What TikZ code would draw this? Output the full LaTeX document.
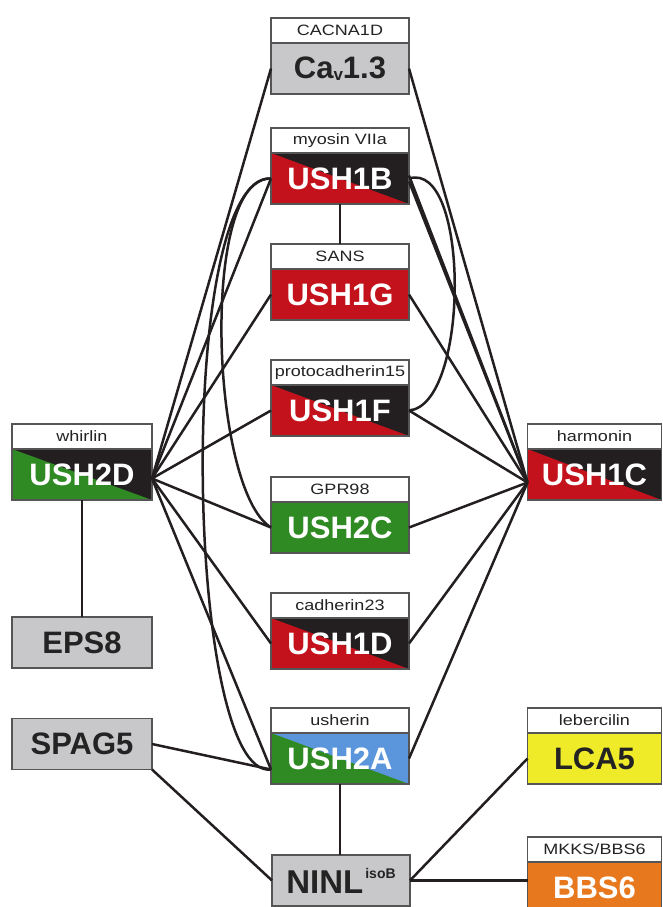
\documentclass[tikz,border=0pt]{standalone}
\usepackage{fontspec}
\setmainfont{Liberation Sans}
\newfontfamily\hdrfont[FakeStretch=1.2]{Liberation Sans}
\definecolor{ured}{RGB}{196,18,28}
\definecolor{ublack}{RGB}{35,31,32}
\definecolor{ugreen}{RGB}{47,138,36}
\definecolor{ublue}{RGB}{91,150,220}
\definecolor{ugray}{RGB}{200,200,202}
\definecolor{uyellow}{RGB}{240,235,40}
\definecolor{uorange}{RGB}{232,120,30}
\definecolor{uframe}{RGB}{85,85,85}
\definecolor{utext}{RGB}{35,35,35}
\tikzset{
  frame/.style={draw=uframe, line width=1.2pt, inner sep=0pt, outer sep=0pt},
  hdr/.style={frame, fill=white, minimum height=25pt, text=utext,
    font=\hdrfont\fontsize{15}{15}\selectfont},
  gene/.style={frame, minimum height=51pt,
    font=\bfseries\fontsize{31}{31}\selectfont},
  light/.style={gene, text=white},
  dark/.style={gene, text=utext},
  % two-coloured box: #1 lower-left triangle, #2 upper-right triangle
  split/.style 2 args={light, fill=#2, path picture={
    \fill[#1] (path picture bounding box.north west) --
      (path picture bounding box.south east) --
      (path picture bounding box.south west) -- cycle;}},
  link/.style={draw=ublack, line width=2.5pt},
}
\begin{document}
\begin{tikzpicture}[x=1pt, y=-1pt]
\clip (0,0) rectangle (663,907);
\useasboundingbox (0,0) rectangle (663,907);

% central column
\node[hdr, minimum width=138pt] (cavh) at (340,30.5) {CACNA1D};
\node[dark, fill=ugray, minimum width=138pt, anchor=north] (cav) at (cavh.south)
  {Ca\raisebox{-2pt}{\fontsize{17}{17}\selectfont v}1.3};

\node[hdr, minimum width=138pt] (b1h) at (340,140.5) {myosin VIIa};
\node[split={ured}{ublack}, minimum width=138pt, anchor=north] (b1) at (b1h.south) {USH1B};

\node[hdr, minimum width=138pt] (g1h) at (340,256.5) {SANS};
\node[light, fill=ured, minimum width=138pt, anchor=north] (g1) at (g1h.south) {USH1G};

\node[hdr, minimum width=138pt] (f1h) at (340,372.5) {protocadherin15};
\node[split={ured}{ublack}, minimum width=138pt, anchor=north] (f1) at (f1h.south) {USH1F};

\node[hdr, minimum width=138pt] (c2h) at (340,489.5) {GPR98};
\node[light, fill=ugreen, minimum width=138pt, anchor=north] (c2) at (c2h.south) {USH2C};

\node[hdr, minimum width=138pt] (d1h) at (340,605.5) {cadherin23};
\node[split={ured}{ublack}, minimum width=138pt, anchor=north] (d1) at (d1h.south) {USH1D};

\node[hdr, minimum width=138pt] (a2h) at (340,720.5) {usherin};
\node[split={ugreen}{ublue}, minimum width=138pt, anchor=north] (a2) at (a2h.south) {USH2A};

\node[dark, fill=ugray, minimum width=138pt] (ninl) at (341,880.5)
  {\fontsize{33}{33}\selectfont NINL\hspace{2pt}\raisebox{15pt}{\fontsize{14}{14}\selectfont isoB}};

% left column
\node[hdr, minimum width=140pt] (d2h) at (82,436.5) {whirlin};
\node[split={ugreen}{ublack}, minimum width=140pt, anchor=north] (d2) at (d2h.south) {USH2D};
\node[dark, fill=ugray, minimum width=140pt] (eps) at (82,642.5) {EPS8};
\node[dark, fill=ugray, minimum width=140pt] (spag) at (82,744) {SPAG5};

% right column
\node[hdr, minimum width=134pt] (c1h) at (594.5,436.5) {harmonin};
\node[split={ured}{ublack}, minimum width=134pt, anchor=north] (c1) at (c1h.south) {USH1C};

\node[hdr, minimum width=134pt] (lcah) at (594.5,720.5) {lebercilin};
\node[dark, fill=uyellow, minimum width=134pt, anchor=north] (lca) at (lcah.south) {LCA5};

\node[hdr, minimum width=134pt] (bbsh) at (594.5,849.5) {MKKS/BBS6};
\node[light, fill=uorange, minimum width=134pt, anchor=north] (bbs) at (bbsh.south) {BBS6};

% attachment points
\coordinate (a2in) at ([yshift=-11pt]a2.west);
\coordinate (d2out) at ([yshift=-4pt]d2.east);
\coordinate (c1in) at ([yshift=-8pt]c1.west);

% whirlin links
\foreach \t in {cav, b1, g1, f1, c2, d1}
  \draw[link] (d2out) -- (\t.west);
\draw[link] (d2out) -- (a2in);
\draw[link] (d2.south) -- (eps.north);

% harmonin links
\foreach \t in {cav, g1, f1, c2, d1, a2}
  \draw[link] (c1in) -- (\t.east);
\draw[link] ([yshift=-3pt]b1.east) -- (c1in);
\draw[link] ([yshift=3pt]b1.east) -- (c1in);

% myosin VIIa links
\draw[link] (b1.south) -- (g1h.north);
\draw[link] (b1.east) .. controls (470,160) and (470,405) .. (f1.east);
\draw[link] (b1.west) .. controls (200,175) and (210,490) .. (c2.west);
\draw[link] (b1.west) .. controls (175,175) and (185,780) .. (a2in);

% lower links
\draw[link] (spag.east) -- (a2in);
\draw[link] (spag.south east) -- (ninl.west);
\draw[link] (a2.south) -- (a2.south |- ninl.north);
\draw[link] (ninl.east) -- (lca.west);
\draw[link] (ninl.east) -- (ninl.east -| bbs.west);
\end{tikzpicture}
\end{document}
